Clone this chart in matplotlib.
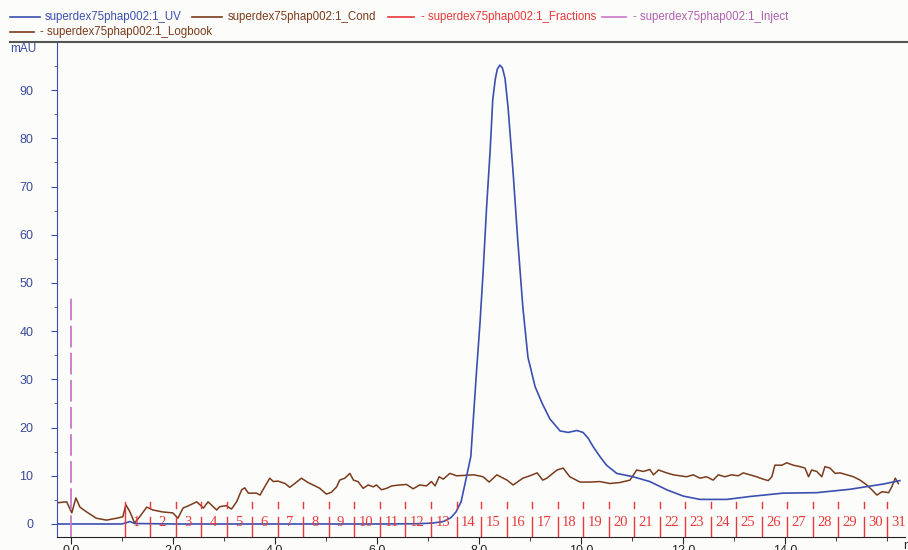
import matplotlib
matplotlib.use("Agg")
import matplotlib.pyplot as plt
from matplotlib.lines import Line2D
from matplotlib.ticker import MultipleLocator
import numpy as np

# UV trace (mAU vs ml)
uv_x = [-0.27, 0.0, 1.0, 1.1, 1.16, 1.25, 2.0, 4.0, 6.0, 6.8, 7.1, 7.3, 7.45, 7.55, 7.65,
        7.76, 7.84, 7.95, 8.02, 8.08, 8.15, 8.22, 8.27, 8.32, 8.36, 8.41, 8.46, 8.51, 8.57,
        8.67, 8.76, 8.86, 8.96, 9.1, 9.24, 9.39, 9.59, 9.75, 9.92, 10.04, 10.14, 10.24,
        10.37, 10.5, 10.7, 11.02, 11.35, 11.68, 12.0, 12.33, 12.86, 13.31, 13.96, 14.62,
        15.27, 15.93, 16.25]
uv_y = [0.0, 0.0, 0.0, 0.3, 0.5, 0.1, 0.0, 0.0, 0.0, 0.05, 0.2, 0.5, 1.3, 2.5, 4.6,
        10.0, 14.0, 31.3, 41.7, 52.0, 65.8, 77.6, 88.0, 92.3, 94.4, 95.2, 94.6, 92.5, 86.5,
        72.8, 58.9, 45.0, 34.6, 28.5, 25.0, 21.8, 19.3, 19.0, 19.4, 19.0, 17.8, 16.0,
        14.0, 12.2, 10.5, 9.8, 8.8, 7.1, 5.8, 5.1, 5.1, 5.7, 6.4, 6.5,
        7.2, 8.3, 9.0]

# conductivity trace
cond_x = [-0.27, -0.08, 0.02, 0.1, 0.18, 0.31, 0.5, 0.7, 0.9, 1.02, 1.08, 1.16, 1.25, 1.35,
          1.49, 1.61, 1.8, 2.0, 2.1, 2.2, 2.33, 2.47, 2.6, 2.69, 2.86, 2.92, 3.05, 3.15,
          3.25, 3.35, 3.41, 3.48, 3.64, 3.71, 3.8, 3.9, 3.97, 4.06, 4.2, 4.29, 4.39, 4.52,
          4.65, 4.75, 4.88, 5.01, 5.11, 5.21, 5.27, 5.37, 5.47, 5.54, 5.63, 5.73, 5.83,
          5.93, 5.99, 6.09, 6.19, 6.29, 6.45, 6.58, 6.71, 6.84, 6.97, 7.07, 7.14, 7.22,
          7.3, 7.43, 7.56, 7.9, 8.08, 8.2, 8.35, 8.55, 8.67, 8.86, 9.0, 9.14, 9.25, 9.33,
          9.53, 9.65, 9.78, 9.98, 10.18, 10.37, 10.57, 10.76, 10.96, 11.03, 11.09, 11.22,
          11.35, 11.42, 11.52, 11.68, 11.81, 11.94, 12.07, 12.2, 12.33, 12.46, 12.59,
          12.69, 12.82, 12.95, 13.08, 13.18, 13.31, 13.44, 13.57, 13.67, 13.74, 13.8,
          13.94, 14.03, 14.16, 14.29, 14.39, 14.46, 14.52, 14.62, 14.72, 14.78, 14.88,
          14.98, 15.08, 15.21, 15.34, 15.47, 15.6, 15.7, 15.8, 15.9, 16.03, 16.09, 16.16,
          16.22]
cond_y = [4.4, 4.6, 2.3, 5.4, 3.5, 2.5, 1.2, 0.8, 1.2, 1.5, 4.0, 2.5, 0.2, 1.5,
          3.5, 2.9, 2.5, 2.3, 1.2, 3.3, 3.9, 4.6, 3.3, 4.6, 2.9, 3.6, 3.8, 3.1,
          4.6, 7.1, 7.5, 6.4, 6.4, 6.0, 7.7, 9.5, 8.8, 8.9, 8.4, 7.6, 8.4, 9.5,
          8.6, 8.1, 7.4, 6.2, 6.6, 7.7, 9.1, 9.5, 10.5, 9.1, 8.8, 7.4, 8.1,
          7.7, 8.1, 7.1, 7.4, 7.9, 8.1, 8.2, 7.3, 8.1, 7.9, 8.8, 7.9, 9.8,
          9.3, 10.5, 10.0, 10.2, 9.8, 8.7, 10.2, 9.1, 8.1, 9.5, 10.0, 10.6, 9.1, 9.5,
          11.2, 11.6, 9.8, 8.7, 8.7, 8.8, 8.4, 8.6, 9.1, 10.2, 11.2, 10.9,
          11.3, 10.2, 11.2, 10.6, 10.2, 10.0, 9.8, 10.2, 9.5, 9.8, 9.1,
          10.2, 9.8, 10.2, 10.0, 10.6, 10.2, 9.8, 9.3, 9.0, 9.8, 12.2,
          12.2, 12.7, 12.2, 11.9, 11.6, 9.8, 11.2, 10.9, 9.8, 11.9, 11.6,
          10.5, 10.6, 10.2, 9.8, 9.1, 8.1, 7.1, 6.0, 6.7, 6.5, 7.7, 9.5,
          8.4]

# fraction boundaries (ml) and labels
frac_x = [1.06, 1.56, 2.06, 2.56, 3.06, 3.56, 4.06, 4.56, 5.06, 5.56, 6.06, 6.56, 7.06,
          7.56, 8.04, 8.54, 9.04, 9.54, 10.04, 10.54, 11.04, 11.54, 12.04, 12.54, 13.04,
          13.54, 14.04, 14.54, 15.04, 15.54, 16.0]
frac_labels = [str(i) for i in range(1, 32)]

inject_x = 0.0
inject_top = 47.5

blue = "#3b4fb0"
brown = "#7a3b1c"
red = "#e8383a"
pink = "#c878c8"
bg = "#fcfcfa"

fig = plt.figure(figsize=(9.08, 5.5), dpi=100, facecolor=bg)
W, H = 908, 550
ax = fig.add_axes([57 / W, 1 - 537 / H, (905 - 57) / W, (537 - 42) / H], facecolor=bg)

ax.plot(cond_x, cond_y, color=brown, lw=1.1, zorder=2)
ax.plot(uv_x, uv_y, color=blue, lw=1.2, zorder=3)

# inject mark
ax.plot([inject_x, inject_x], [-2.7, inject_top], color=pink, lw=1.3,
        dashes=(12, 3), zorder=4)

# fraction marks
for i, fx in enumerate(frac_x):
    if i == 0:
        ax.plot([fx, fx], [-2.7, 4.6], color=red, lw=1, zorder=4)
    else:
        ax.plot([fx, fx], [3.3, 4.6], color=red, lw=1, zorder=4)
        ax.plot([fx, fx], [-2.7, 1.45], color=red, lw=1, zorder=4)
    ax.text(fx + 0.23, 0.4, frac_labels[i], color=red, fontsize=10.5,
            family="Liberation Serif", ha="center", va="center", zorder=5)

ax.set_xlim(-0.27, 16.35)
ax.set_ylim(-2.7, 100)

ax.spines["right"].set_visible(False)
ax.spines["top"].set_visible(False)
ax.spines["left"].set_color(blue)
ax.spines["bottom"].set_color("#222222")

ax.xaxis.set_minor_locator(MultipleLocator(1))
ax.yaxis.set_minor_locator(MultipleLocator(5))
ax.set_xticks(np.arange(0, 16, 2))
ax.set_xticklabels(["%.1f" % v for v in np.arange(0, 16, 2)])
ax.set_yticks(np.arange(0, 100, 10))
ax.tick_params(axis="x", which="major", length=5, color="#222222", labelsize=9,
               labelcolor="#222222", pad=1)
ax.tick_params(axis="x", which="minor", length=3, color="#222222")
ax.tick_params(axis="y", which="major", length=4, color=blue, labelsize=9,
               labelcolor="#3a4a9a", pad=13)
ax.tick_params(axis="y", which="minor", length=2, color=blue)
for lab in ax.get_xticklabels() + ax.get_yticklabels():
    lab.set_family("Liberation Sans")

fig.text(903 / W, 1 - 546 / H, "ml", fontsize=9, family="Liberation Sans",
         color="#222222", ha="left", va="center")
fig.text(10 / W, 1 - 49 / H, "mAU", fontsize=8.5, family="Liberation Sans",
         color="#3a4a9a", ha="left", va="center")

# top border
fig.add_artist(Line2D([10 / W, 1.0], [1 - 42 / H, 1 - 42 / H], color="#555555", lw=1.5))

# legend
def leg(x0, x1, y, color, text, tcolor, tx):
    fig.add_artist(Line2D([x0 / W, x1 / W], [1 - y / H, 1 - y / H], color=color, lw=1.2))
    fig.text(tx / W, 1 - y / H, text, color=tcolor, fontsize=8.3,
             family="Liberation Sans", ha="left", va="center")

leg(10, 40, 17, blue, "superdex75phap002:1_UV", blue, 45)
leg(192, 222, 17, brown, "superdex75phap002:1_Cond", brown, 228)
leg(388, 414, 17, red, "- superdex75phap002:1_Fractions", red, 421)
leg(602, 626, 17, pink, "- superdex75phap002:1_Inject", "#b060b0", 633)
leg(10, 34, 32, brown, "- superdex75phap002:1_Logbook", brown, 40)

fig.savefig("out.png", dpi=100, facecolor=bg)
